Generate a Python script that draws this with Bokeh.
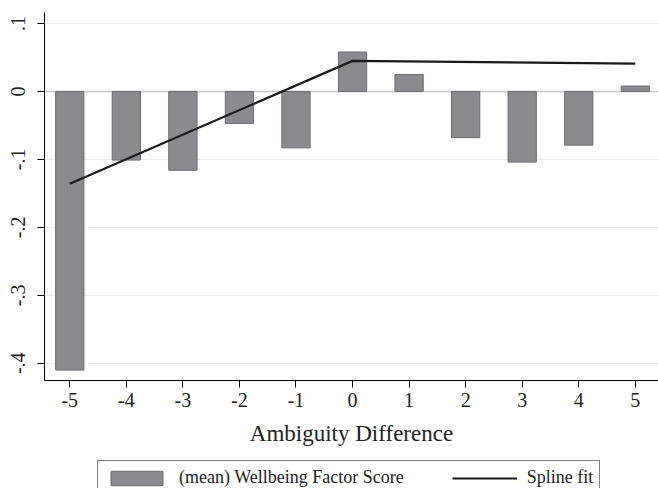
from bokeh.plotting import figure
from bokeh.models import (ColumnDataSource, FixedTicker, Range1d, Legend, LegendItem, Span)
from bokeh.layouts import column
from bokeh.embed import file_html
from bokeh.resources import INLINE

# ---- data ----
categories = [-5, -4, -3, -2, -1, 0, 1, 2, 3, 4, 5]
x_tick_labels = ["-5", "-4", "-3", "-2", "-1", "0", "1", "2", "3", "4", "5"]
wellbeing = [-0.410, -0.101, -0.116, -0.047, -0.083, 0.058, 0.025, -0.068, -0.104, -0.079, 0.008]
spline_x = [-5, 0, 5]
spline_y = [-0.136, 0.045, 0.041]
y_ticks = [-0.4, -0.3, -0.2, -0.1, 0.0, 0.1]
y_tick_labels = ["-.4", "-.3", "-.2", "-.1", "0", ".1"]
x_title = "Ambiguity Difference"
bar_label = "(mean) Wellbeing Factor Score"
line_label = "Spline fit"

FONT = "Liberation Serif"
BAR_FILL = "#8a8b8e"
BAR_LINE = "#6c6d70"
LINE_COL = "#1a1a1a"

p = figure(width=658, height=458, output_backend="svg", toolbar_location=None,
           x_range=Range1d(-5.447, 5.41), y_range=Range1d(-0.4254, 0.1162),
           min_border_left=44, min_border_top=12, min_border_right=0, min_border_bottom=78)
p.outline_line_color = None
p.background_fill_color = "white"
p.border_fill_color = "white"

src = ColumnDataSource(dict(x=categories, top=wellbeing))
bars = p.vbar(x="x", top="top", bottom=0, width=0.5, source=src,
              fill_color=BAR_FILL, line_color=BAR_LINE, line_width=1)
zero = Span(location=0, dimension="width", line_color="#c6c6c6", line_width=1.6, level="underlay")
p.add_layout(zero)
line = p.line(spline_x, spline_y, line_color=LINE_COL, line_width=2.2)

# grid
p.xgrid.grid_line_color = None
p.ygrid.ticker = FixedTicker(ticks=y_ticks)
p.ygrid.grid_line_color = "#ebebeb"
p.ygrid.grid_line_width = 1.2

# axes
xa = p.xaxis[0]
xa.ticker = FixedTicker(ticks=categories)
xa.major_label_overrides = {c: l for c, l in zip(categories, x_tick_labels)}
xa.axis_label = x_title
xa.axis_label_text_font = FONT
xa.axis_label_text_font_size = "23px"
xa.axis_label_text_font_style = "normal"
xa.axis_label_text_color = "#222222"
xa.axis_label_standoff = 11
xa.major_label_text_font = FONT
xa.major_label_text_font_size = "20px"
xa.major_label_text_color = "#222222"
xa.major_label_standoff = 5
xa.major_tick_out = 7
xa.major_tick_in = 0
xa.minor_tick_out = 0
xa.minor_tick_in = 0
xa.axis_line_color = "black"
xa.major_tick_line_color = "black"

ya = p.yaxis[0]
ya.ticker = FixedTicker(ticks=y_ticks)
ya.major_label_overrides = {t: l for t, l in zip(y_ticks, y_tick_labels)}
ya.major_label_orientation = "parallel"
ya.major_label_text_font = FONT
ya.major_label_text_font_size = "20px"
ya.major_label_text_color = "#222222"
ya.major_label_standoff = 12
ya.major_tick_out = 7
ya.major_tick_in = 0
ya.minor_tick_out = 0
ya.minor_tick_in = 0
ya.axis_line_color = "black"
ya.major_tick_line_color = "black"

# legend strip below the chart (its glyph renderers sit outside the strip's visible range)
p2 = figure(width=658, height=30, output_backend="svg", toolbar_location=None,
            x_range=Range1d(0, 1), y_range=Range1d(0, 1),
            x_axis_type=None, y_axis_type=None,
            min_border_left=44, min_border_top=0, min_border_right=0, min_border_bottom=0)
p2.outline_line_color = None
p2.xgrid.grid_line_color = None
p2.ygrid.grid_line_color = None
lg_bar = p2.vbar(x=[-10], top=[-5], bottom=-6, width=0.5,
                 fill_color=BAR_FILL, line_color=BAR_LINE, line_width=1)
lg_line = p2.line(x=[-10, -9], y=[-5, -5], line_color=LINE_COL, line_width=2.2)

legend = Legend(items=[LegendItem(label=bar_label, renderers=[lg_bar]),
                       LegendItem(label=line_label, renderers=[lg_line])],
                orientation="horizontal", location=(53, -7),
                glyph_width=65, glyph_height=18, label_standoff=10, spacing=48,
                padding=6, margin=0,
                label_text_font=FONT, label_text_font_size="18px", label_text_color="#222222",
                border_line_color="black", border_line_width=1,
                background_fill_color="white", background_fill_alpha=1)
p2.add_layout(legend, "center")

layout = column(p, p2, spacing=0)
open("out.html", "w").write(file_html(layout, INLINE))
